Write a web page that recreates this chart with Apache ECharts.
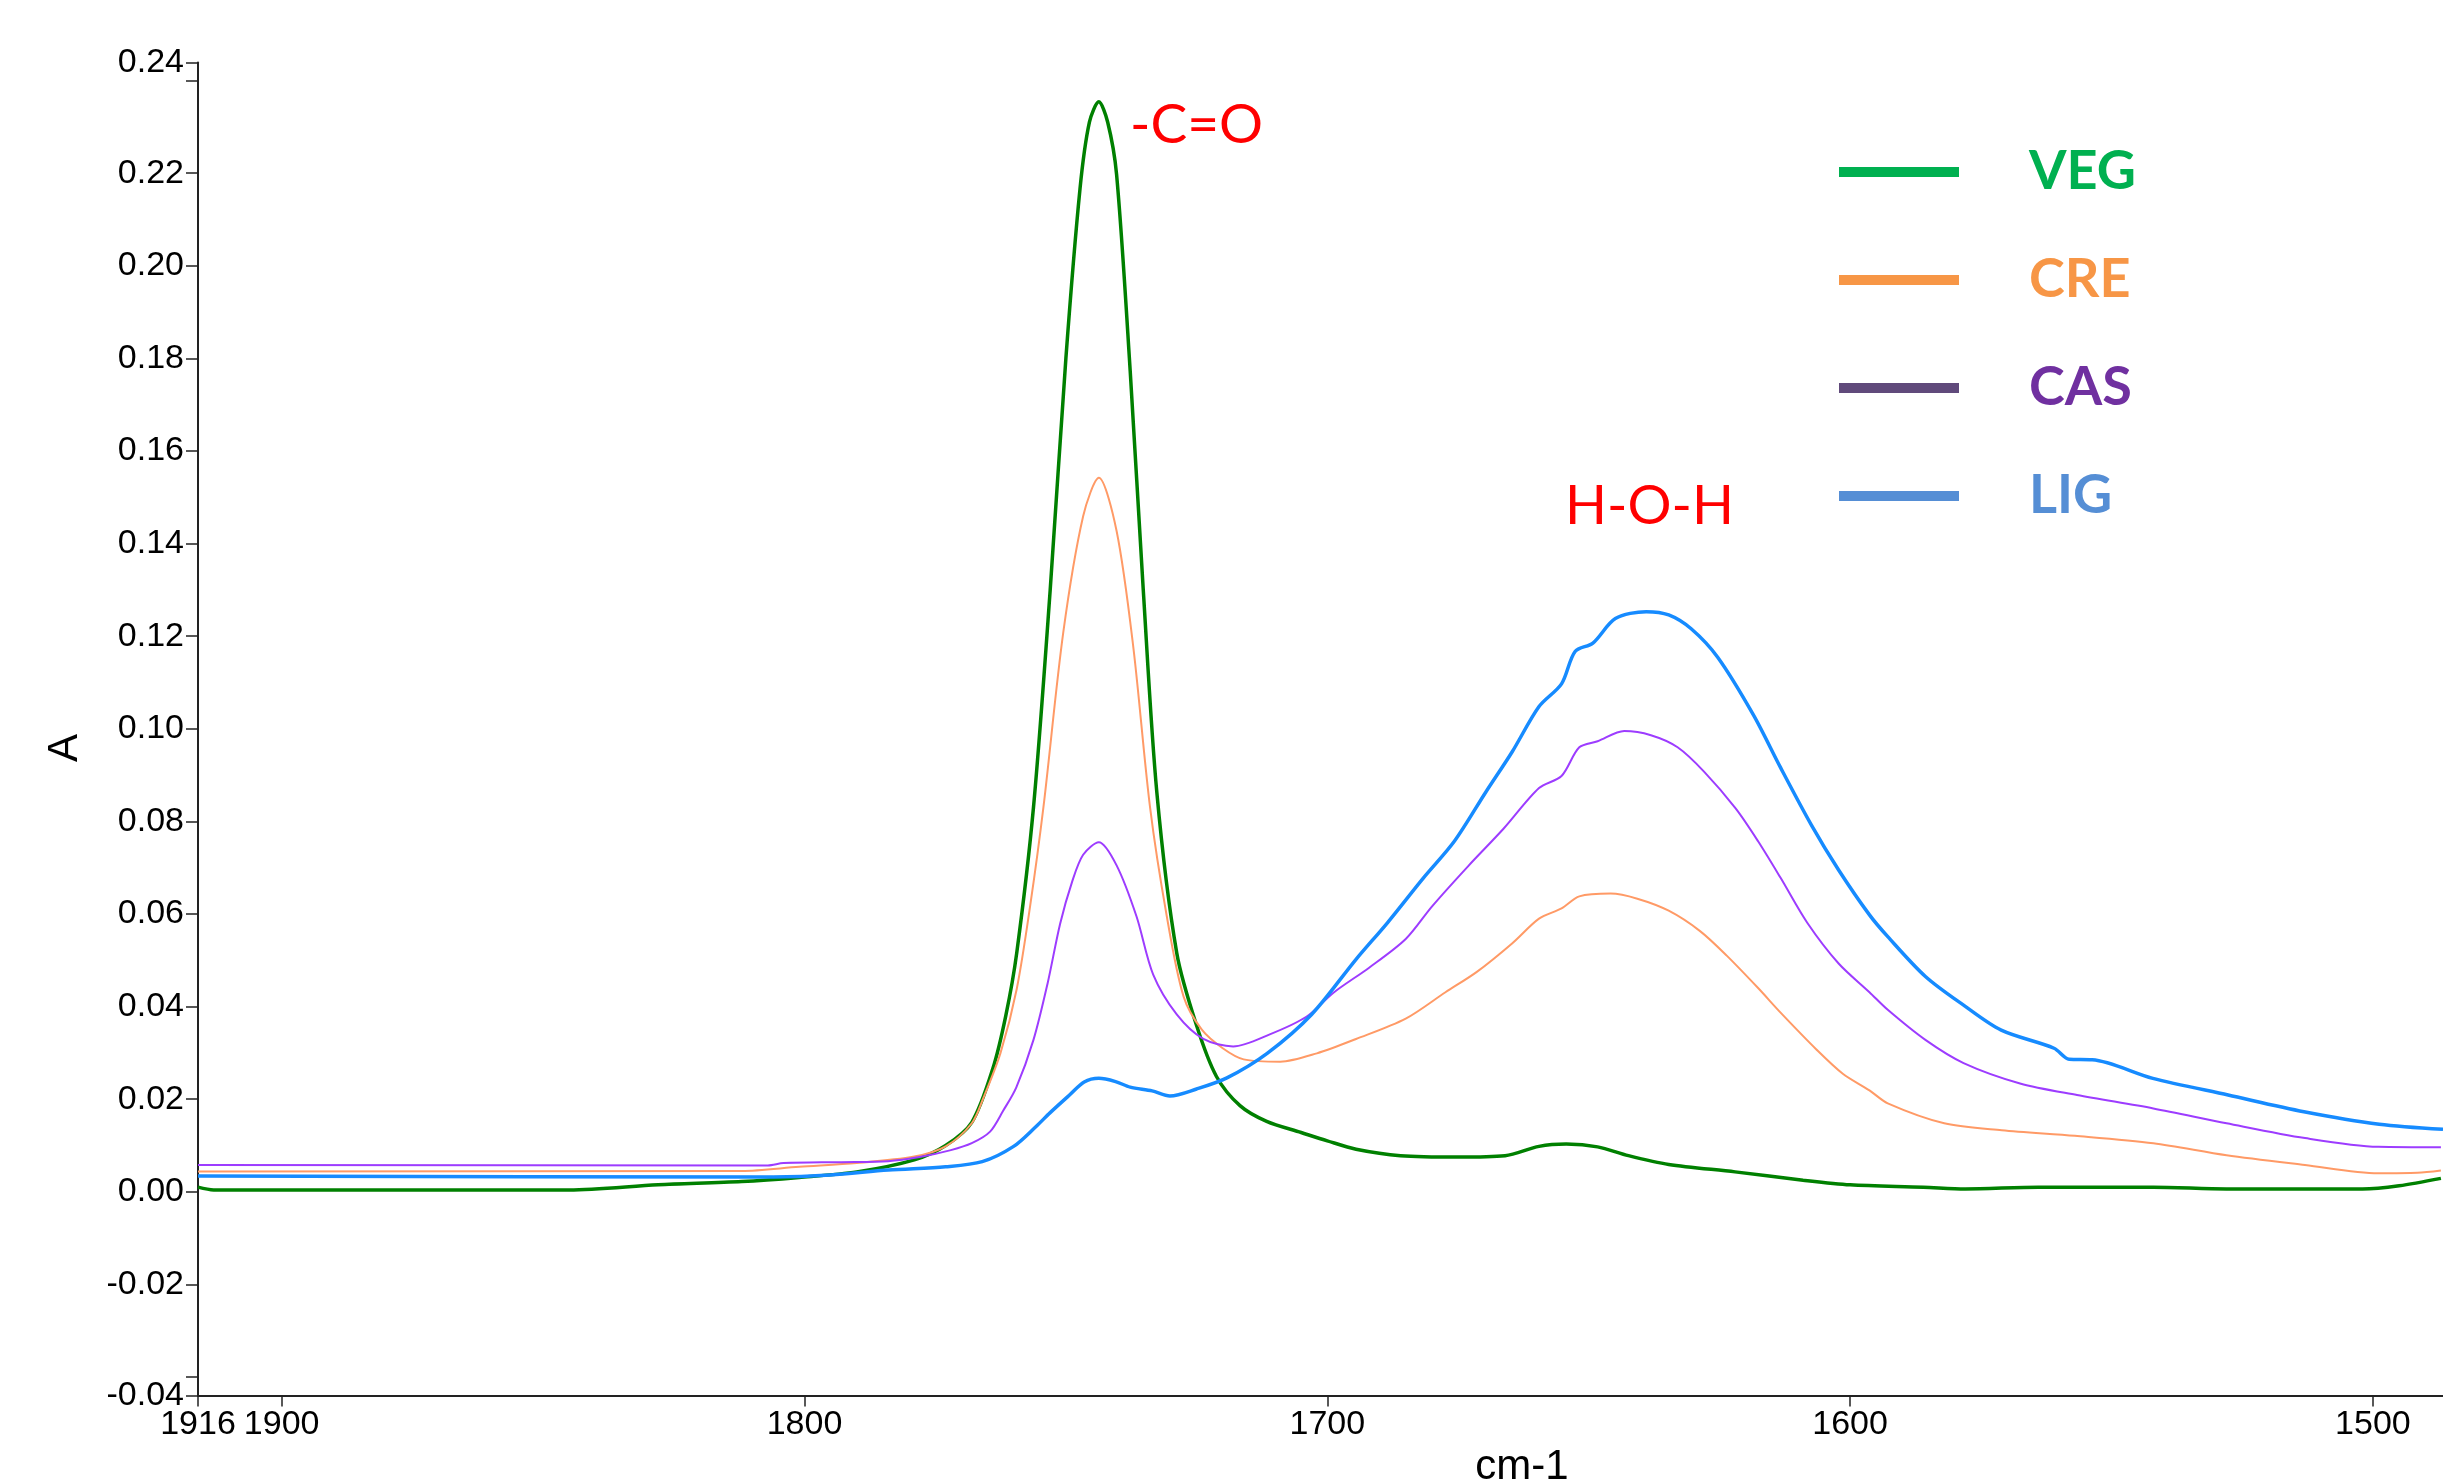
<!DOCTYPE html>
<html>
<head>
<meta charset="utf-8">
<script src="https://cdn.jsdelivr.net/npm/echarts@6/dist/echarts.min.js"></script>
<style>
  html, body { margin: 0; padding: 0; background: #fff; }
  #main { width: 2443px; height: 1479px; }
</style>
</head>
<body>
<div id="main"></div>
<script>
// wavenumber (cm-1), absorbance
var VEG = [
	[1916, 0.0010], [1913, 0.0004], [1845, 0.0004], [1828, 0.0015], [1812, 0.0022],
	[1801, 0.0031], [1790, 0.0043], [1779, 0.0069], [1773, 0.0100], [1768, 0.0150],
	[1764, 0.0265], [1761.5, 0.0380], [1759.4, 0.0516], [1756.2, 0.0830], [1753, 0.1300],
	[1750, 0.1800], [1747.3, 0.2166], [1745.5, 0.2310], [1743.7, 0.2354], [1742, 0.2310],
	[1740.3, 0.2197], [1737.7, 0.1773], [1735.2, 0.1300], [1732.6, 0.0862], [1728.8, 0.0516],
	[1725, 0.0359], [1721.2, 0.0249], [1716.7, 0.0186], [1711.6, 0.0152], [1705, 0.0128],
	[1700, 0.0110], [1694.5, 0.0092], [1686, 0.0078], [1675, 0.0075], [1666, 0.0078],
	[1659.5, 0.0098], [1654.3, 0.0103], [1648.3, 0.0097], [1642.4, 0.0078], [1634.7, 0.0059],
	[1622, 0.0043], [1609, 0.0025], [1600, 0.0015], [1586, 0.0010], [1578, 0.0006],
	[1564, 0.0010], [1542, 0.0010], [1528, 0.0006], [1502, 0.0006], [1495, 0.0013],
	[1487, 0.0029]
];
var CRE = [
	[1916, 0.0044], [1812, 0.0045], [1801, 0.0054], [1790, 0.0062], [1779, 0.0076],
	[1773, 0.0098], [1768, 0.0148], [1765.8, 0.0202], [1762.5, 0.0300], [1759.4, 0.0438],
	[1756.8, 0.0620], [1754.3, 0.0830], [1750.5, 0.1208], [1746.7, 0.1459], [1743.7, 0.1542],
	[1740.3, 0.1427], [1737.1, 0.1176], [1733.9, 0.0830], [1730.7, 0.0595], [1727.5, 0.0422],
	[1724, 0.0350], [1720, 0.0310], [1716, 0.0286], [1709, 0.0281], [1702, 0.0299],
	[1694.5, 0.0330], [1685, 0.0374], [1677.4, 0.0431], [1671.4, 0.0475], [1664.6, 0.0537],
	[1659.5, 0.0590], [1655.2, 0.0612], [1651.8, 0.0638], [1645.8, 0.0644], [1640.7, 0.0633],
	[1634.7, 0.0607], [1628.7, 0.0563], [1623.6, 0.0510], [1617.6, 0.0440], [1613.3, 0.0387],
	[1606.5, 0.0308], [1601.4, 0.0255], [1596.3, 0.0219], [1592.8, 0.0191], [1582, 0.0148],
	[1571, 0.0133], [1557, 0.0121], [1542, 0.0105], [1528, 0.0079], [1513, 0.0058],
	[1499, 0.0040], [1491.5, 0.0041], [1487, 0.0046]
];
var CAS = [
	[1916, 0.0058], [1807, 0.0057], [1804, 0.0062], [1793, 0.0064], [1784, 0.0066],
	[1778, 0.0075], [1772, 0.0090], [1768, 0.0105], [1764.5, 0.0130], [1762, 0.0175],
	[1759.5, 0.0225], [1756.2, 0.0328], [1753.5, 0.0450], [1751.1, 0.0579], [1748.8, 0.0670],
	[1746.7, 0.0728], [1743.7, 0.0755], [1740.3, 0.0705], [1736.5, 0.0595], [1733.3, 0.0469],
	[1728.8, 0.0383], [1723.7, 0.0330], [1718, 0.0314], [1711, 0.0340], [1704, 0.0378],
	[1698.7, 0.0431], [1692, 0.0484], [1685, 0.0546], [1680, 0.0616], [1673, 0.0704],
	[1666.3, 0.0784], [1659.5, 0.0872], [1655.2, 0.0898], [1651.8, 0.0960], [1648.3, 0.0973],
	[1643.2, 0.0995], [1638.1, 0.0986], [1633, 0.0960], [1627.9, 0.0907], [1621.9, 0.0828],
	[1617.6, 0.0757], [1613.3, 0.0678], [1608.2, 0.0581], [1602.2, 0.0493], [1596.3, 0.0431],
	[1592.8, 0.0393], [1585.6, 0.0328], [1578.3, 0.0278], [1567.5, 0.0234], [1556.6, 0.0209],
	[1542, 0.0180], [1528, 0.0148], [1513, 0.0116], [1499, 0.0097], [1487, 0.0096]
];
var LIG = [
	[1916, 0.0034], [1806, 0.0032], [1795, 0.0036], [1784, 0.0047], [1773, 0.0054],
	[1766, 0.0065], [1760, 0.0098], [1755.7, 0.0141], [1753, 0.0171], [1749.2, 0.0210],
	[1746.5, 0.0237], [1743.7, 0.0245], [1740.5, 0.0238], [1737.7, 0.0226], [1733.5, 0.0218],
	[1730.1, 0.0207], [1725, 0.0222], [1719.2, 0.0246], [1711.5, 0.0299], [1703, 0.0383],
	[1694.5, 0.0502], [1688.5, 0.0581], [1681.6, 0.0678], [1675.7, 0.0757], [1669.7, 0.0863],
	[1664.6, 0.0951], [1659.5, 0.1048], [1655.2, 0.1097], [1652.6, 0.1167], [1649.2, 0.1185],
	[1644.9, 0.1238], [1639, 0.1253], [1634.7, 0.1246], [1630.4, 0.1216], [1625.3, 0.1154],
	[1618.5, 0.1030], [1613.3, 0.0916], [1607.4, 0.0792], [1602.2, 0.0695], [1596.3, 0.0598],
	[1592.8, 0.0551], [1585.6, 0.0465], [1578.3, 0.0403], [1571.1, 0.0349], [1561, 0.0310],
	[1558.1, 0.0286], [1553.7, 0.0285], [1542.1, 0.0245], [1527.7, 0.0209], [1513.2, 0.0173],
	[1498.8, 0.0146], [1486.6, 0.0135]
];

// axis ranges and ticks
var xMin = 1486.6, xMax = 1916;
var xTicks = [1916, 1900, 1800, 1700, 1600, 1500];
var yMin = -0.044, yMax = 0.2439;
var yTicks = [-0.04, -0.02, 0, 0.02, 0.04, 0.06, 0.08, 0.10, 0.12, 0.14, 0.16, 0.18, 0.20, 0.22, 0.24];
var yLabels = [-0.02, 0, 0.02, 0.04, 0.06, 0.08, 0.10, 0.12, 0.14, 0.16, 0.18, 0.20, 0.22];

var names = ['VEG', 'CRE', 'CAS', 'LIG'];
var lineColors = ['#008000', '#FF9A66', '#9D3CFF', '#168BFF'];   // 曲线
var lineWidths = [3.5, 2, 2, 3.5];
var legendColors = ['#00B050', '#F79646', '#604A7B', '#558ED5'];  // 图例线
var legendText = ['#00B050', '#F79646', '#7030A0', '#558ED5'];    // 图例字
var seriesData = [VEG, CRE, CAS, LIG];

var chart = echarts.init(document.getElementById('main'));

var series = [];
for (var i = 0; i < names.length; i++) {
	series.push({
		name: names[i],
		type: 'line',
		data: seriesData[i],
		smooth: 0.3,
		showSymbol: false,
		lineStyle: { color: lineColors[i], width: lineWidths[i] },
		itemStyle: { color: lineColors[i] }
	});
}

var axisFont = { fontFamily: 'Liberation Sans', fontSize: 34, color: '#000' };

chart.setOption({
	animation: false,
	backgroundColor: '#fff',
	grid: { left: 198, right: 0, top: 62.5, bottom: 83.5, outerBoundsMode: 'none' },
	legend: {
		orient: 'vertical',
		left: 1834, top: 140,
		itemWidth: 120, itemHeight: 10,
		itemGap: 54,
		icon: 'rect',
		data: names.map(function (n, i) {
			return {
				name: n,
				itemStyle: { color: legendColors[i] },
				textStyle: { color: legendText[i] }
			};
		}),
		textStyle: { fontFamily: 'Lato', fontWeight: 'bold', fontSize: 54, padding: [0, 0, 0, 65] }
	},
	xAxis: {
		type: 'value', inverse: true, min: xMin, max: xMax,
		axisLine: { onZero: false, lineStyle: { color: '#222', width: 2 } },
		axisTick: { length: 11, lineStyle: { color: '#222', width: 1.5 }, customValues: xTicks },
		axisLabel: Object.assign({
			margin: 12,
			customValues: xTicks,
			showMinLabel: true, showMaxLabel: true,
			hideOverlap: false,
			formatter: function (v) { return String(v); }
		}, axisFont),
		splitLine: { show: false }
	},
	yAxis: {
		type: 'value', min: yMin, max: yMax,
		axisLine: { show: true, lineStyle: { color: '#222', width: 2 } },
		axisTick: { show: true, length: 12, lineStyle: { color: '#222', width: 1.5 }, customValues: [yMin].concat(yTicks, [yMax]) },
		axisLabel: Object.assign({
			margin: 14,
			customValues: [yMin].concat(yLabels, [yMax]),
			formatter: function (v) { return v.toFixed(2); }
		}, axisFont),
		splitLine: { show: false }
	},
	graphic: [
		{ type: 'text', x: 65, y: 748, rotation: Math.PI / 2,
		  style: { text: 'A', font: '42px "Liberation Sans"', fill: '#000', align: 'center', verticalAlign: 'middle' } },
		{ type: 'text', x: 1522, y: 1467,
		  style: { text: 'cm-1', font: '42px "Liberation Sans"', fill: '#000', align: 'center', verticalAlign: 'middle' } },
		{ type: 'text', x: 1130, y: 125,
		  style: { text: '-C=O', font: '55px Lato', fill: '#FF0000', align: 'left', verticalAlign: 'middle' } },
		{ type: 'text', x: 1565, y: 506,
		  style: { text: 'H-O-H', font: '55px Lato', fill: '#FF0000', align: 'left', verticalAlign: 'middle' } }
	],
	series: series
});
</script>
</body>
</html>
